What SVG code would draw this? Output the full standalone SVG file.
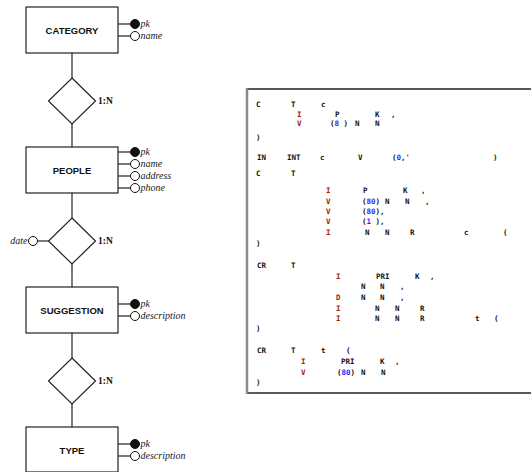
<svg xmlns="http://www.w3.org/2000/svg" width="531" height="472" viewBox="0 0 531 472">
<style>
.ent{fill:#fff;stroke:#222;stroke-width:1.2}
.et{font-family:"Liberation Sans",Arial,sans-serif;font-weight:bold;font-size:9.5px;fill:#111;text-anchor:middle}
.at{font-family:"Liberation Serif","Times New Roman",serif;font-style:italic;font-size:10px;fill:#222}
.rl{font-family:"Liberation Serif","Times New Roman",serif;font-weight:bold;font-size:9.5px;fill:#111}
.ln{stroke:#222;stroke-width:1.2;fill:none}
.pk{fill:#111;stroke:#111;stroke-width:1}
.op{fill:#fff;stroke:#111;stroke-width:1}
.dm{fill:#fff;stroke:#222;stroke-width:1.2}
.c{font-family:"DejaVu Sans Mono","Liberation Mono",monospace;font-weight:bold;font-size:7.5px;fill:#111}
.r{fill:#a31515}
.b{fill:#2a2aff}
</style>
<g id="connectors">
<line class="ln" x1="72" y1="53" x2="72" y2="78"/>
<line class="ln" x1="72" y1="124" x2="72" y2="147"/>
<line class="ln" x1="72" y1="193" x2="72" y2="218"/>
<line class="ln" x1="72" y1="264" x2="72" y2="287"/>
<line class="ln" x1="72" y1="333" x2="72" y2="358"/>
<line class="ln" x1="72" y1="404" x2="72" y2="427"/>
<line class="ln" x1="118" y1="24" x2="130.5" y2="24"/>
<line class="ln" x1="118" y1="36" x2="130.5" y2="36"/>
<line class="ln" x1="118" y1="152" x2="130.5" y2="152"/>
<line class="ln" x1="118" y1="164" x2="130.5" y2="164"/>
<line class="ln" x1="118" y1="176" x2="130.5" y2="176"/>
<line class="ln" x1="118" y1="188" x2="130.5" y2="188"/>
<line class="ln" x1="37.5" y1="241" x2="49" y2="241"/>
<line class="ln" x1="118" y1="304" x2="130.5" y2="304"/>
<line class="ln" x1="118" y1="316" x2="130.5" y2="316"/>
<line class="ln" x1="118" y1="444" x2="130.5" y2="444"/>
<line class="ln" x1="118" y1="456" x2="130.5" y2="456"/>
</g>
<g id="category">
<rect class="ent" x="26" y="7" width="92" height="46"/>
<text class="et" x="72" y="33.5">CATEGORY</text>
<circle class="pk" cx="135" cy="24" r="4.5"/>
<circle class="op" cx="135" cy="36" r="4.5"/>
<text class="at" x="140.5" y="27">pk</text>
<text class="at" x="140.5" y="39">name</text>
</g>
<g id="rel1">
<polygon class="dm" points="72,78 95.5,101 72,124 48.5,101"/>
<text class="rl" x="98" y="104">1:N</text>
</g>
<g id="people">
<rect class="ent" x="26" y="147" width="92" height="46"/>
<text class="et" x="72" y="173.5">PEOPLE</text>
<circle class="pk" cx="135" cy="152" r="4.5"/>
<circle class="op" cx="135" cy="164" r="4.5"/>
<circle class="op" cx="135" cy="176" r="4.5"/>
<circle class="op" cx="135" cy="188" r="4.5"/>
<text class="at" x="140.5" y="155">pk</text>
<text class="at" x="140.5" y="167">name</text>
<text class="at" x="140.5" y="179">address</text>
<text class="at" x="140.5" y="191">phone</text>
</g>
<g id="rel2">
<polygon class="dm" points="72,218 95.5,241 72,264 48.5,241"/>
<text class="rl" x="98" y="244">1:N</text>
<circle class="op" cx="33" cy="241" r="4.5"/>
<text class="at" x="27.5" y="244" text-anchor="end">date</text>
</g>
<g id="suggestion">
<rect class="ent" x="26" y="287" width="92" height="46"/>
<text class="et" x="72" y="313.5">SUGGESTION</text>
<circle class="pk" cx="135" cy="304" r="4.5"/>
<circle class="op" cx="135" cy="316" r="4.5"/>
<text class="at" x="140.5" y="307">pk</text>
<text class="at" x="140.5" y="319">description</text>
</g>
<g id="rel3">
<polygon class="dm" points="72,358 95.5,381 72,404 48.5,381"/>
<text class="rl" x="98" y="384">1:N</text>
</g>
<g id="type">
<rect class="ent" x="26" y="427" width="92" height="45"/>
<text class="et" x="72" y="453.5">TYPE</text>
<circle class="pk" cx="135" cy="444" r="4.5"/>
<circle class="op" cx="135" cy="456" r="4.5"/>
<text class="at" x="140.5" y="447">pk</text>
<text class="at" x="140.5" y="459">description</text>
</g>
<g id="code">
<rect x="247" y="89" width="300" height="304" fill="#fff" stroke="#222" stroke-width="1.5"/>
<line x1="247" y1="88.5" x2="247" y2="393.5" stroke="#8a8a8a" stroke-width="2.5"/>
<g class="c">
<text x="256" y="106.7">C</text><text x="291" y="106.7">T</text><text x="321" y="106.7">c</text>
<text x="297" y="116.7" class="r">I</text><text x="335" y="116.7">P</text><text x="375" y="116.7">K</text><text x="391" y="116.7">,</text>
<text x="297" y="125.7" class="r">V</text><text x="330" y="125.7">(<tspan class="b">8</tspan> )</text><text x="355" y="125.7">N</text><text x="375" y="125.7">N</text>
<text x="256" y="139.7">)</text>
<text x="257" y="159.7">IN</text><text x="287" y="159.7">INT</text><text x="320" y="159.7">c</text><text x="358" y="159.7">V</text><text x="392" y="159.7">(<tspan class="b">0</tspan>,<tspan class="r">'</tspan></text><text x="493" y="159.7">)</text>
<text x="256" y="175.7">C</text><text x="291" y="175.7">T</text>
<text x="326" y="192.7" class="r">I</text><text x="363" y="192.7">P</text><text x="403" y="192.7">K</text><text x="421" y="192.7">,</text>
<text x="326" y="203.7" class="r">V</text><text x="362" y="203.7">(<tspan class="b">80</tspan>)</text><text x="385" y="203.7">N</text><text x="405" y="203.7">N</text><text x="425" y="203.7">,</text>
<text x="326" y="213.7" class="r">V</text><text x="362" y="213.7">(<tspan class="b">80</tspan>),</text>
<text x="326" y="223.7" class="r">V</text><text x="362" y="223.7">(<tspan class="b">1</tspan> ),</text>
<text x="326" y="234.7" class="r">I</text><text x="365" y="234.7">N</text><text x="385" y="234.7">N</text><text x="410" y="234.7">R</text><text x="464" y="234.7">c</text><text x="503" y="234.7">(</text>
<text x="256" y="245.7">)</text>
<text x="257" y="267.7">CR</text><text x="291" y="267.7">T</text>
<text x="336" y="278.7" class="r">I</text><text x="376" y="278.7">PRI</text><text x="415" y="278.7">K</text><text x="430" y="278.7">,</text>
<text x="361" y="288.7">N</text><text x="380" y="288.7">N</text><text x="400" y="288.7">,</text>
<text x="336" y="299.7" class="r">D</text><text x="361" y="299.7">N</text><text x="380" y="299.7">N</text><text x="400" y="299.7">,</text>
<text x="336" y="310.7" class="r">I</text><text x="375" y="310.7">N</text><text x="395" y="310.7">N</text><text x="420" y="310.7">R</text>
<text x="336" y="320.7" class="r">I</text><text x="375" y="320.7">N</text><text x="395" y="320.7">N</text><text x="420" y="320.7">R</text><text x="475" y="320.7">t</text><text x="494" y="320.7">(</text>
<text x="256" y="330.7">)</text>
<text x="257" y="352.7">CR</text><text x="291" y="352.7">T</text><text x="321" y="352.7">t</text><text x="346" y="352.7">(</text>
<text x="301" y="363.7" class="r">I</text><text x="341" y="363.7">PRI</text><text x="380" y="363.7">K</text><text x="395" y="363.7">,</text>
<text x="301" y="374.7" class="r">V</text><text x="337" y="374.7">(<tspan class="b">80</tspan>)</text><text x="361" y="374.7">N</text><text x="381" y="374.7">N</text>
<text x="256" y="384.7">)</text>
</g>
</g>
</svg>
